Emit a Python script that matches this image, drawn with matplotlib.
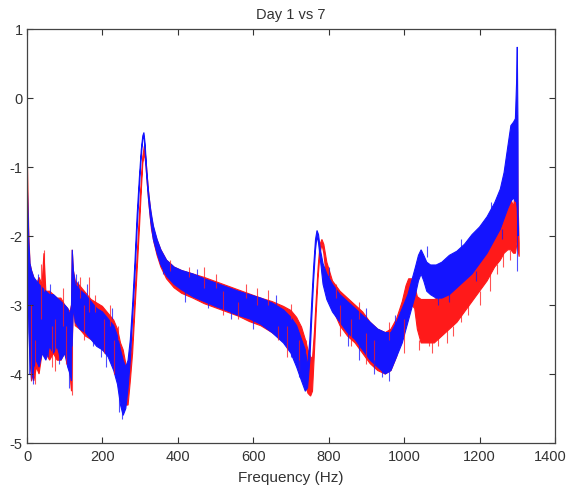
import numpy as np
import matplotlib
matplotlib.use("Agg")
import matplotlib.pyplot as plt
from matplotlib.transforms import ScaledTranslation

# ---------------- data ----------------
title = "Day 1 vs 7"
xlabel = "Frequency (Hz)"
xticks = [0, 200, 400, 600, 800, 1000, 1200, 1400]
yticks = [-5, -4, -3, -2, -1, 0, 1]

# Blue series: frequency grid, lower and upper edge of the noisy band
blue_f = [0, 1, 3, 5, 8, 12, 18, 25, 32, 40, 50, 60, 70, 80, 90, 100, 108, 114, 118, 120,
          123, 128, 140, 155, 170, 185, 200, 215, 230, 240, 248, 255, 262, 268, 274, 280,
          286, 292, 298, 303, 307, 310, 313, 317, 322, 328, 335, 345, 355, 370, 390, 410,
          440, 470, 500, 530, 560, 590, 620, 650, 680, 700, 715, 728, 738, 744, 750, 755,
          760, 765, 769, 773, 778, 785, 795, 810, 830, 850, 870, 890, 910, 930, 950, 965,
          980, 995, 1010, 1020, 1030, 1038, 1045, 1052, 1060, 1070, 1085, 1100, 1120, 1140,
          1160, 1180, 1200, 1220, 1240, 1255, 1265, 1275, 1283, 1290, 1295, 1298, 1300, 1302]
blue_lo = [-2.0, -2.2, -2.8, -3.4, -3.8, -4.1, -3.9, -3.8, -3.9, -3.7, -3.8, -3.6, -3.7, -3.6,
           -3.8, -3.7, -3.9, -4.0, -4.1, -3.5, -3.0, -3.25, -3.35, -3.4, -3.5, -3.6, -3.65,
           -3.75, -3.95, -4.15, -4.45, -4.6, -4.5, -4.2, -3.8, -3.2, -2.6, -1.9, -1.3, -0.85,
           -0.6, -0.55, -0.75, -1.1, -1.45, -1.78, -2.05, -2.25, -2.42, -2.58, -2.7, -2.78,
           -2.88, -2.95, -3.02, -3.08, -3.15, -3.2, -3.28, -3.4, -3.55, -3.7, -3.9, -4.1,
           -4.25, -4.2, -3.8, -3.2, -2.65, -2.2, -2.0, -2.1, -2.35, -2.7, -2.92, -3.1,
           -3.25, -3.4, -3.5, -3.65, -3.8, -3.9, -4.0, -3.95, -3.75, -3.55, -3.25, -3.05,
           -2.85, -2.65, -2.55, -2.65, -2.8, -2.85, -2.9, -2.9, -2.85, -2.75, -2.65, -2.55,
           -2.4, -2.25, -2.05, -1.9, -1.75, -1.6, -1.5, -1.45, -1.5, -1.5, -1.6, -2.0]
blue_hi = [-1.2, -1.3, -1.7, -2.1, -2.4, -2.5, -2.6, -2.65, -2.7, -2.75, -2.8, -2.85, -2.85,
           -2.9, -2.95, -3.0, -3.05, -3.15, -3.0, -2.2, -2.5, -2.7, -2.78, -2.85, -2.95, -3.05,
           -3.1, -3.2, -3.3, -3.45, -3.65, -3.8, -3.9, -3.8, -3.5, -3.0, -2.4, -1.7, -1.15,
           -0.75, -0.55, -0.5, -0.65, -1.0, -1.35, -1.62, -1.85, -2.05, -2.2, -2.35, -2.45,
           -2.5, -2.55, -2.62, -2.68, -2.74, -2.8, -2.85, -2.9, -2.97, -3.07, -3.18, -3.3,
           -3.5, -3.65, -3.9, -3.5, -2.95, -2.45, -2.05, -1.92, -1.98, -2.2, -2.4, -2.55,
           -2.7, -2.85, -2.95, -3.05, -3.15, -3.25, -3.35, -3.4, -3.4, -3.25, -3.05, -2.85,
           -2.65, -2.45, -2.28, -2.2, -2.28, -2.38, -2.42, -2.42, -2.38, -2.28, -2.22, -2.12,
           -1.98, -1.87, -1.72, -1.52, -1.32, -1.08, -0.7, -0.4, -0.35, -0.3, 0.2, 0.74, -0.5]

# Red series
red_f = [0, 1, 3, 5, 8, 12, 18, 25, 32, 40, 45, 50, 60, 70, 80, 90, 100, 108, 114, 118, 120,
         123, 128, 140, 155, 170, 185, 200, 215, 230, 240, 248, 255, 262, 268, 274, 280, 286,
         292, 298, 303, 307, 311, 315, 319, 324, 330, 337, 345, 355, 370, 390, 410, 440, 470,
         500, 530, 560, 590, 620, 650, 680, 700, 715, 728, 738, 745, 752, 757, 762, 767, 772,
         777, 782, 787, 795, 810, 830, 850, 870, 890, 910, 930, 950, 965, 980, 995, 1005,
         1012, 1020, 1028, 1035, 1045, 1060, 1080, 1100, 1120, 1140, 1160, 1180, 1200, 1220,
         1240, 1255, 1265, 1275, 1283, 1290, 1295, 1298, 1300, 1302, 1305]
red_lo = [-1.5, -1.8, -2.4, -3.0, -3.6, -4.0, -4.1, -3.9, -4.0, -3.7, -3.5, -3.7, -3.8, -3.7,
          -3.8, -3.8, -3.7, -3.8, -4.0, -4.25, -3.6, -3.0, -3.3, -3.35, -3.45, -3.5, -3.55,
          -3.65, -3.7, -3.85, -3.95, -4.15, -4.35, -4.45, -4.45, -4.1, -3.7, -3.1, -2.5, -1.9,
          -1.35, -0.95, -0.8, -0.95, -1.25, -1.58, -1.9, -2.1, -2.28, -2.45, -2.62, -2.75,
          -2.83, -2.9, -2.98, -3.04, -3.1, -3.16, -3.24, -3.3, -3.4, -3.52, -3.65, -3.8,
          -3.98, -4.15, -4.28, -4.32, -4.25, -3.7, -3.1, -2.6, -2.25, -2.12, -2.25, -2.65,
          -3.05, -3.3, -3.45, -3.55, -3.7, -3.85, -3.95, -4.0, -3.95, -3.75, -3.45, -3.15,
          -3.05, -3.0, -3.05, -3.35, -3.55, -3.55, -3.55, -3.45, -3.35, -3.25, -3.1, -2.95,
          -2.8, -2.65, -2.45, -2.35, -2.25, -2.2, -2.2, -2.25, -2.25, -2.15, -2.05, -2.2, -2.3]
red_hi = [-0.8, -0.9, -1.5, -2.0, -2.4, -2.5, -2.6, -2.7, -2.6, -2.7, -2.25, -2.8, -2.8, -2.85,
          -2.9, -2.9, -3.0, -3.05, -3.1, -3.0, -2.2, -2.5, -2.65, -2.72, -2.82, -2.92, -2.97,
          -3.02, -3.12, -3.22, -3.35, -3.55, -3.65, -3.85, -3.9, -3.8, -3.5, -2.9, -2.3, -1.7,
          -1.2, -0.85, -0.7, -0.85, -1.15, -1.45, -1.72, -1.92, -2.06, -2.2, -2.35, -2.45,
          -2.5, -2.55, -2.6, -2.66, -2.72, -2.78, -2.84, -2.9, -2.95, -3.02, -3.08, -3.18,
          -3.32, -3.5, -3.65, -3.75, -3.78, -3.4, -2.9, -2.45, -2.12, -2.05, -2.12, -2.38,
          -2.65, -2.8, -2.9, -3.0, -3.1, -3.25, -3.35, -3.4, -3.35, -3.2, -2.95, -2.72,
          -2.62, -2.62, -2.72, -2.88, -2.92, -2.92, -2.92, -2.87, -2.77, -2.67, -2.57, -2.42,
          -2.32, -2.17, -1.97, -1.82, -1.67, -1.52, -1.47, -1.57, -1.37, -0.6, -0.25, -1.5, -2.1]

# Thin isolated spikes sticking out of the bands: frequency, start, tip
red_spk_f = [10, 22, 38, 45, 66, 74, 95, 104, 118, 140, 150, 165, 180, 205, 220, 230, 240,
             380, 430, 470, 500, 520, 560, 580, 610, 640, 665, 690, 700, 720, 740, 820, 830,
             860, 880, 900, 920, 960, 1000, 1040, 1065, 1075, 1090, 1113, 1130, 1150, 1170,
             1183, 1200, 1228, 1245, 1262, 1280]
red_spk_a = [-3.0, -3.5, -3.2, -2.8, -3.3, -3.2, -3.3, -3.3, -3.6, -2.9, -3.0, -3.1, -3.1,
             -3.2, -3.3, -3.5, -3.5, -2.5, -2.6, -2.75, -2.75, -2.8, -2.95, -2.9, -3.0, -3.0,
             -3.3, -3.3, -3.2, -3.5, -3.7, -2.9, -3.0, -3.2, -3.2, -3.4, -3.5, -3.5, -3.2,
             -3.5, -3.2, -3.5, -3.2, -3.2, -3.3, -2.9, -3.0, -2.7, -2.8, -2.4, -2.4, -2.2, -2.2]
red_spk_b = [-4.1, -4.15, -2.4, -2.2, -3.9, -3.95, -2.75, -3.85, -4.3, -2.6, -3.5, -2.6, -2.85,
             -3.7, -3.0, -4.0, -3.3, -2.35, -2.45, -2.45, -2.55, -3.15, -3.2, -2.7, -2.75,
             -2.78, -3.5, -3.75, -2.98, -3.95, -3.5, -2.7, -3.45, -3.6, -2.95, -3.85, -3.9,
             -3.25, -3.7, -3.65, -3.6, -3.7, -3.6, -3.55, -3.45, -3.25, -3.15, -2.85, -3.0,
             -2.8, -2.55, -2.45, -2.35]
blue_spk_f = [6, 15, 28, 55, 62, 85, 112, 130, 135, 160, 175, 195, 210, 225, 245, 252, 360,
              420, 450, 480, 540, 600, 640, 660, 700, 720, 800, 850, 880, 900, 920, 940, 960,
              975, 1045, 1060, 1090, 1120, 1150, 1190, 1230, 1260, 1300]
blue_spk_a = [-3.0, -3.2, -3.2, -3.2, -3.2, -3.3, -3.5, -2.7, -3.0, -2.85, -3.2, -3.3, -3.7,
              -3.2, -3.9, -4.0, -2.4, -2.65, -2.6, -2.9, -2.9, -3.2, -3.1, -3.0, -3.4, -3.8,
              -2.6, -3.4, -3.3, -3.25, -3.8, -3.6, -3.6, -3.3, -2.4, -2.3, -2.8, -2.6, -2.2,
              -2.5, -1.7, -1.9, -1.5]
blue_spk_b = [-4.0, -4.15, -2.55, -3.75, -2.7, -3.85, -4.2, -2.55, -2.65, -2.7, -3.6, -3.75,
              -3.9, -3.05, -4.55, -4.65, -2.55, -2.95, -2.48, -3.05, -3.2, -3.35, -3.35, -2.85,
              -3.75, -4.05, -2.45, -3.6, -3.8, -3.05, -4.0, -4.05, -4.1, -3.15, -2.2, -2.15,
              -3.0, -2.95, -2.05, -2.65, -1.5, -2.05, -2.5]

# ---------------- drawing ----------------
plt.rcParams['font.family'] = ['Liberation Sans', 'DejaVu Sans']
fig = plt.figure(figsize=(5.68, 4.88), dpi=100)
ax = fig.add_axes([27 / 568, 1 - 443 / 488, (555 - 27) / 568, (443 - 29) / 488])

RED = '#ff1a1a'
BLUE = '#1414ff'

for f, lo, hi, sf, sa, sb, c in [
        (red_f, red_lo, red_hi, red_spk_f, red_spk_a, red_spk_b, RED),
        (blue_f, blue_lo, blue_hi, blue_spk_f, blue_spk_a, blue_spk_b, BLUE)]:
    f = np.asarray(f, float)
    lo = np.asarray(lo, float)
    hi = np.asarray(hi, float)
    ax.fill(np.concatenate([f, f[::-1]]), np.concatenate([lo, hi[::-1]]),
            color=c, linewidth=0.8, edgecolor=c)
    ax.vlines(sf, sa, sb, colors=c, lw=0.8, alpha=0.75)

ax.set_xlim(0, 1400)
ax.set_ylim(-5, 1)
ax.set_xticks(xticks)
ax.set_yticks(yticks)
ax.set_xticklabels([str(t) for t in xticks])
ax.set_yticklabels([str(t) for t in yticks])
ax.tick_params(direction='in', top=True, right=True, length=4, width=0.8,
               labelsize=10.5, colors='#333333', pad=3)
ax.tick_params(axis='x', pad=5)
for sp in ax.spines.values():
    sp.set_color('#444444')
    sp.set_linewidth(0.9)
ax.set_title(title, fontsize=10.5, color='#333333', pad=7)
ax.set_xlabel(xlabel, fontsize=11, color='#333333', labelpad=5)

# keep the last x tick label inside the canvas (it is clipped at the edge in the original)
last = ax.get_xticklabels()[-1]
last.set_transform(last.get_transform() + ScaledTranslation(-5 / 100, 0, fig.dpi_scale_trans))

fig.savefig('out.png', dpi=100)
